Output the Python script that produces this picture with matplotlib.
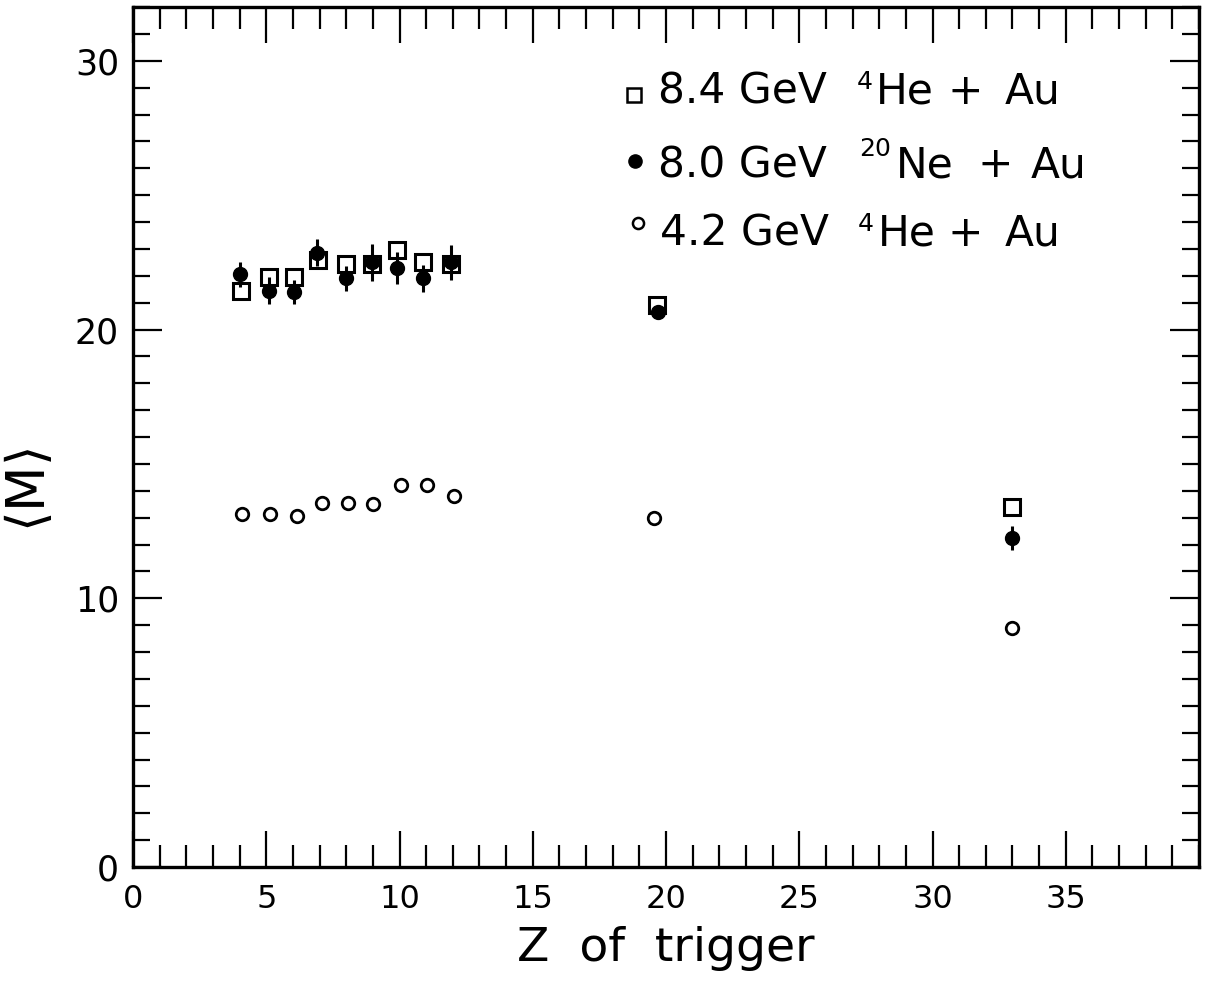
import matplotlib
matplotlib.use("Agg")
import matplotlib.pyplot as plt
from matplotlib.ticker import MultipleLocator

# <M> versus trigger charge for three projectile/energy combinations
z_he84 = [4.05, 5.1, 6.05, 6.95, 8.0, 8.95, 9.9, 10.9, 11.95, 19.65, 33.0]
m_he84 = [21.45, 21.95, 21.95, 22.6, 22.45, 22.45, 22.95, 22.5, 22.45, 20.9, 13.4]

z_ne80 = [4.0, 5.1, 6.05, 6.9, 8.0, 8.95, 9.9, 10.9, 11.95, 19.7, 33.0]
m_ne80 = [22.05, 21.45, 21.4, 22.85, 21.9, 22.5, 22.3, 21.9, 22.5, 20.65, 12.25]
e_ne80 = [0.45, 0.5, 0.45, 0.5, 0.45, 0.7, 0.6, 0.5, 0.65, 0.2, 0.45]

z_he42 = [4.1, 5.15, 6.15, 7.1, 8.05, 9.0, 10.05, 11.05, 12.05, 19.55, 33.0]
m_he42 = [13.15, 13.15, 13.05, 13.55, 13.55, 13.5, 14.2, 14.2, 13.8, 13.0, 8.9]

x_ticks = [0, 5, 10, 15, 20, 25, 30, 35]
y_ticks = [0, 10, 20, 30]

W, H = 1213, 982
fig = plt.figure(figsize=(W / 100, H / 100), dpi=100)
L, R, B, T = 133, 1199, 867, 7
ax = fig.add_axes([L / W, 1 - B / H, (R - L) / W, (B - T) / H])

ax.set_xlim(0, 40)
ax.set_ylim(0, 32)

# 4.2 GeV helium: open circles
ax.plot(z_he42, m_he42, linestyle="none", marker="o", ms=9, mfc="white",
        mec="black", mew=2.0, zorder=3)
# 8.4 GeV helium: open squares
ax.plot(z_he84, m_he84, linestyle="none", marker="s", ms=11, mfc="white",
        mec="black", mew=2.2, zorder=3)
# 8.0 GeV neon: filled circles with error bars
ax.errorbar(z_ne80, m_ne80, yerr=e_ne80, fmt="o", ms=10, color="black",
            mfc="black", mec="black", elinewidth=2.2, capsize=0, zorder=4)

# axes frame and ticks
for sp in ax.spines.values():
    sp.set_linewidth(2.4)
ax.xaxis.set_major_locator(MultipleLocator(5))
ax.xaxis.set_minor_locator(MultipleLocator(1))
ax.yaxis.set_major_locator(MultipleLocator(10))
ax.yaxis.set_minor_locator(MultipleLocator(1))
ax.tick_params(which="both", direction="in", top=True, right=True, width=1.6)
ax.tick_params(axis="x", which="major", length=26, labelsize=23, pad=12)
ax.tick_params(axis="x", which="minor", length=16)
ax.tick_params(axis="y", which="major", length=21, labelsize=25, pad=10)
ax.tick_params(axis="y", which="minor", length=12)
ax.set_xticks(x_ticks)
ax.set_yticks(y_ticks)

ax.set_xlabel("Z  of  trigger", fontsize=34, labelpad=8)
ax.set_ylabel(r"$\langle\mathrm{M}\rangle$", fontsize=38)
ax.yaxis.set_label_coords(-0.072, 0.438)

# key drawn in the upper right
def fx(px):
    return (px - L) / (R - L)

def fy(py):
    return (B - py) / (B - T)

tk = dict(transform=ax.transAxes, ha="left", va="baseline", color="black")
tc = dict(transform=ax.transAxes, ha="center", va="baseline", color="black")
main_fs = 30.5
sup_fs = 18

ax.plot([fx(634)], [fy(95)], marker="s", ms=10, mfc="white", mec="black",
        mew=1.8, transform=ax.transAxes, clip_on=False)
ax.text(fx(658), fy(104), "8.4 GeV", fontsize=main_fs, **tk)
ax.text(fx(857), fy(89), "4", fontsize=sup_fs, **tk)
ax.text(fx(876), fy(104), "He", fontsize=main_fs, **tk)
ax.text(fx(965), fy(104), "+", fontsize=main_fs, **tc)
ax.text(fx(1005), fy(104), "Au", fontsize=main_fs, **tk)

ax.plot([fx(635)], [fy(161)], marker="o", ms=9.5, mfc="black", mec="black",
        transform=ax.transAxes, clip_on=False)
ax.text(fx(658), fy(177), "8.0 GeV", fontsize=main_fs, **tk)
ax.text(fx(859), fy(156), "20", fontsize=sup_fs, **tk)
ax.text(fx(896), fy(177), "Ne", fontsize=main_fs, **tk)
ax.text(fx(995), fy(177), "+", fontsize=main_fs, **tc)
ax.text(fx(1031), fy(177), "Au", fontsize=main_fs, **tk)

ax.plot([fx(638)], [fy(223)], marker="o", ms=8, mfc="white", mec="black",
        mew=1.8, transform=ax.transAxes, clip_on=False)
ax.text(fx(660), fy(246), "4.2 GeV", fontsize=main_fs, **tk)
ax.text(fx(858), fy(231), "4", fontsize=sup_fs, **tk)
ax.text(fx(878), fy(246), "He", fontsize=main_fs, **tk)
ax.text(fx(965), fy(246), "+", fontsize=main_fs, **tc)
ax.text(fx(1005), fy(246), "Au", fontsize=main_fs, **tk)

fig.savefig("out.png", dpi=100)
